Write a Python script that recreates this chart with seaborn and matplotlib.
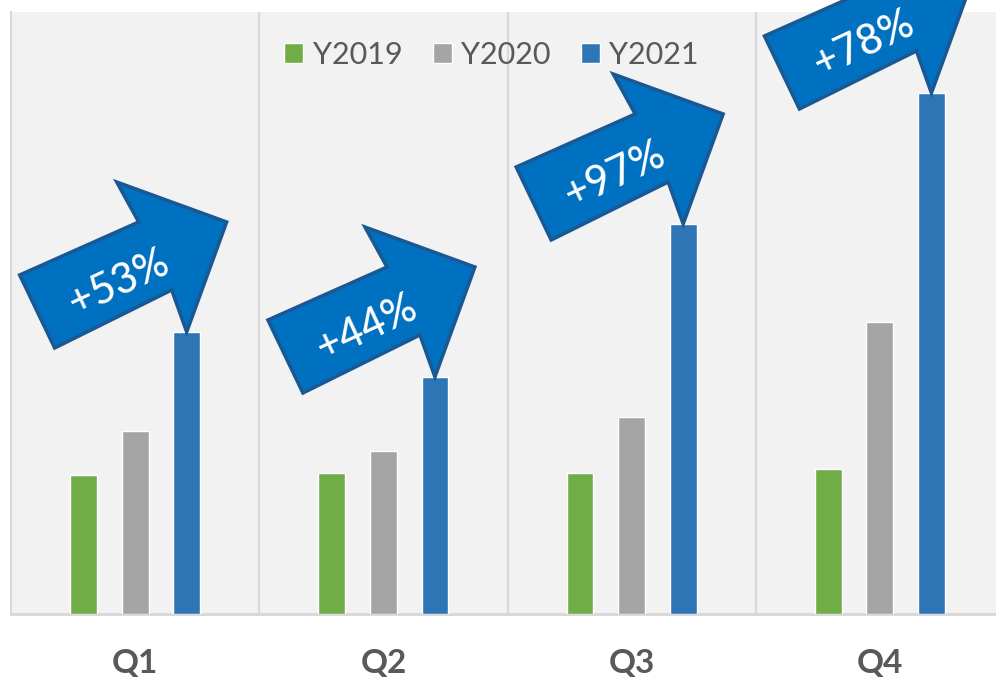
import numpy as np
import pandas as pd
import matplotlib
matplotlib.use("Agg")
import matplotlib.pyplot as plt
import seaborn as sns
from matplotlib.patches import Polygon

# ---- data ----
quarters = ["Q1", "Q2", "Q3", "Q4"]
years = ["Y2019", "Y2020", "Y2021"]
y2019 = [13.9, 14.1, 14.1, 14.5]
y2020 = [18.3, 16.3, 19.7, 29.2]
y2021 = [28.2, 23.7, 39.0, 52.1]
growth_labels = ["+53%", "+44%", "+97%", "+78%"]
colors = ["#70AD47", "#A5A5A5", "#2E75B6"]

df = pd.DataFrame({
    "quarter": quarters * 3,
    "year": [y for y in years for _ in quarters],
    "value": y2019 + y2020 + y2021,
})

sns.set_style("white")
plt.rcParams["font.family"] = ["Lato", "DejaVu Sans"]

W, H = 996, 677
fig = plt.figure(figsize=(W / 100, H / 100), dpi=100)
ax = fig.add_axes([11 / W, 63 / H, 993 / W, 602 / H])
ax.set_facecolor("#F2F2F2")

sns.barplot(data=df, x="quarter", y="value", hue="year", hue_order=years,
            palette=colors, width=0.623, gap=0.48, saturation=1, ax=ax,
            zorder=3, errorbar=None)

ax.set_xlim(-0.5, 3.5)
ax.set_ylim(0, 60.2)

for xv in [0.5, 1.5, 2.5, 3.5]:
    ax.axvline(xv, color="#D9D9D9", lw=1.5, zorder=1)

for s in ["top", "right"]:
    ax.spines[s].set_visible(False)
ax.spines["left"].set_color("#D9D9D9")
ax.spines["left"].set_linewidth(1.5)
ax.spines["bottom"].set_color("#D9D9D9")
ax.spines["bottom"].set_linewidth(2.2)

ax.set_yticks([])
ax.set_xlabel("")
ax.set_ylabel("")
ax.tick_params(axis="x", length=0, pad=25, labelsize=24, labelcolor="#595959")
for t in ax.get_xticklabels():
    t.set_fontweight("bold")

sns.move_legend(ax, "center", bbox_to_anchor=(491.5 / W, 1 - 55 / H),
                bbox_transform=fig.transFigure, ncol=3, frameon=False,
                title=None, fontsize=22, handlelength=0.62, handleheight=0.62,
                handletextpad=0.3, columnspacing=1.0, labelcolor="#595959")

# ---- growth arrows anchored on the Y2021 bars ----
shape = [(-167, -57), (-48, -110), (-70, -150), (40, -110), (0, 0),
         (-15, -42), (-132, 16)]
blue_bars = ax.containers[2]
for bar, lab in zip(blue_bars, growth_labels):
    cx = bar.get_x() + bar.get_width() / 2
    top = bar.get_height()
    bx, by = ax.transData.transform((cx, top))
    pts = [(bx + dx, by - dy) for dx, dy in shape]
    dpts = ax.transData.inverted().transform(pts)
    ax.add_patch(Polygon(dpts, closed=True, facecolor="#0070C0",
                         edgecolor="#1A5894", lw=2.5, joinstyle="miter",
                         clip_on=False, zorder=5))
    ax.annotate(lab, xy=(cx, top), xytext=(-68, 49), textcoords="offset pixels",
                ha="center", va="center", rotation=25, rotation_mode="anchor",
                color="white", fontsize=30, fontweight="medium", zorder=6,
                annotation_clip=False)

fig.savefig("out.png", dpi=100)
